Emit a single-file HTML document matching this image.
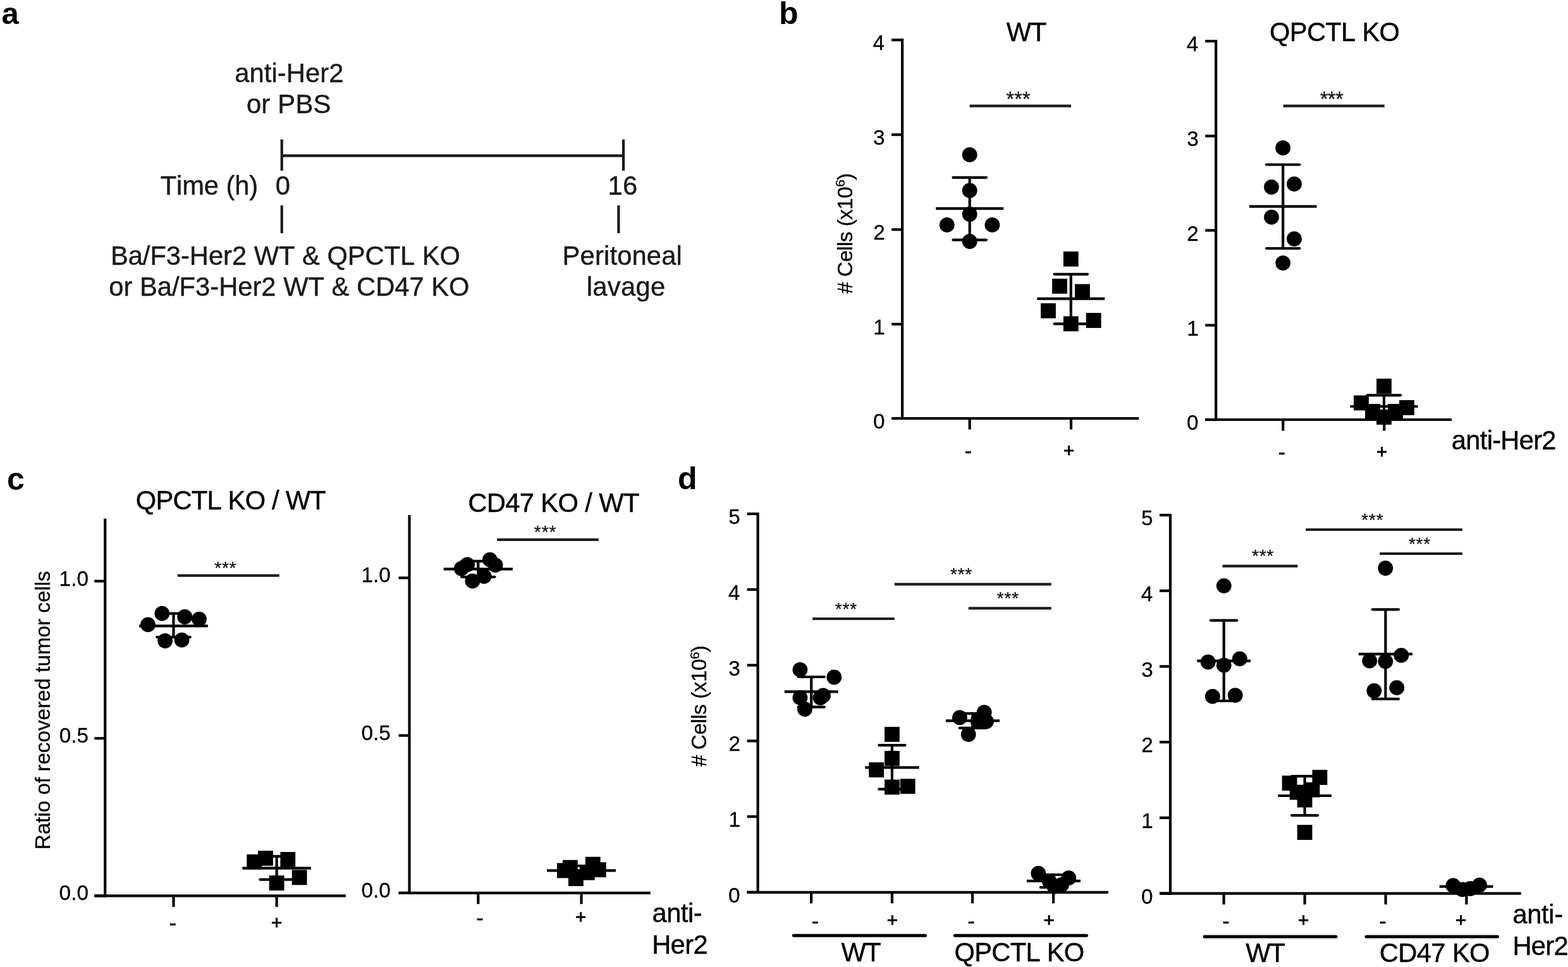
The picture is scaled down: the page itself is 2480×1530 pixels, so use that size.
<!DOCTYPE html>
<html lang="en">
<head>
<meta charset="utf-8">
<title>Figure</title>
<style>
html,body{margin:0;padding:0;background:#fff;}
body{width:2480px;height:1530px;overflow:hidden;}
svg{display:block;font-family:'Liberation Sans',Arial,Helvetica,sans-serif;font-kerning:none;}
text{white-space:pre;}
</style>
</head>
<body>
<svg width="2480" height="1530" viewBox="0 0 2480 1530">
<rect x="0" y="0" width="2480" height="1530" fill="#fff"/>
<text x="2.50" y="38.00" font-size="49" font-weight="bold" fill="#000">a</text>
<text x="1232.00" y="38.00" font-size="50" font-weight="bold" fill="#000">b</text>
<text x="11.00" y="775.00" font-size="50" font-weight="bold" fill="#000">c</text>
<text x="1072.00" y="773.50" font-size="50" font-weight="bold" fill="#000">d</text>
<text x="371.23" y="129.80" font-size="41.7" letter-spacing="0.108" fill="#1a1a1a" stroke="#1a1a1a" stroke-width="0.45">anti-Her2</text>
<text x="389.95" y="179.40" font-size="41.7" letter-spacing="0.252" fill="#1a1a1a" stroke="#1a1a1a" stroke-width="0.45">or PBS</text>
<line x1="445.70" y1="246.40" x2="986.00" y2="246.40" stroke="#1a1a1a" stroke-width="4.2"/>
<line x1="445.70" y1="220.60" x2="445.70" y2="270.00" stroke="#1a1a1a" stroke-width="4.2"/>
<line x1="986.00" y1="220.60" x2="986.00" y2="270.00" stroke="#1a1a1a" stroke-width="4.2"/>
<text x="253.66" y="307.50" font-size="41.7" letter-spacing="-0.099" fill="#1a1a1a" stroke="#1a1a1a" stroke-width="0.45">Time (h)</text>
<text x="435.87" y="307.50" font-size="41.7" fill="#1a1a1a" stroke="#1a1a1a" stroke-width="0.45">0</text>
<text x="961.52" y="307.50" font-size="41.7" letter-spacing="0.326" fill="#1a1a1a" stroke="#1a1a1a" stroke-width="0.45">16</text>
<line x1="445.70" y1="325.00" x2="445.70" y2="369.00" stroke="#1a1a1a" stroke-width="4.2"/>
<line x1="978.40" y1="325.00" x2="978.40" y2="369.00" stroke="#1a1a1a" stroke-width="4.2"/>
<text x="174.88" y="418.80" font-size="41.7" letter-spacing="-0.020" fill="#1a1a1a" stroke="#1a1a1a" stroke-width="0.45">Ba/F3-Her2 WT &amp; QPCTL KO</text>
<text x="172.25" y="467.80" font-size="41.7" letter-spacing="0.016" fill="#1a1a1a" stroke="#1a1a1a" stroke-width="0.45">or Ba/F3-Her2 WT &amp; CD47 KO</text>
<text x="889.58" y="418.80" font-size="41.7" letter-spacing="0.171" fill="#1a1a1a" stroke="#1a1a1a" stroke-width="0.45">Peritoneal</text>
<text x="927.69" y="467.80" font-size="41.7" letter-spacing="0.336" fill="#1a1a1a" stroke="#1a1a1a" stroke-width="0.45">lavage</text>
<line x1="1427.10" y1="61.10" x2="1427.10" y2="664.10" stroke="#000" stroke-width="4.2"/>
<line x1="1410.10" y1="662.00" x2="1801.30" y2="662.00" stroke="#000" stroke-width="4.2"/>
<line x1="1410.10" y1="63.20" x2="1427.10" y2="63.20" stroke="#000" stroke-width="4.2"/>
<text x="1380.56" y="79.40" font-size="33.3" fill="#000" stroke="#000" stroke-width="0.3">4</text>
<line x1="1410.10" y1="213.10" x2="1427.10" y2="213.10" stroke="#000" stroke-width="4.2"/>
<text x="1381.04" y="229.30" font-size="33.3" fill="#000" stroke="#000" stroke-width="0.3">3</text>
<line x1="1410.10" y1="363.20" x2="1427.10" y2="363.20" stroke="#000" stroke-width="4.2"/>
<text x="1381.25" y="379.40" font-size="33.3" fill="#000" stroke="#000" stroke-width="0.3">2</text>
<line x1="1410.10" y1="512.90" x2="1427.10" y2="512.90" stroke="#000" stroke-width="4.2"/>
<text x="1381.21" y="529.10" font-size="33.3" fill="#000" stroke="#000" stroke-width="0.3">1</text>
<line x1="1410.10" y1="662.00" x2="1427.10" y2="662.00" stroke="#000" stroke-width="4.2"/>
<text x="1380.88" y="678.20" font-size="33.3" fill="#000" stroke="#000" stroke-width="0.3">0</text>
<line x1="1533.70" y1="662.00" x2="1533.70" y2="679.50" stroke="#000" stroke-width="4.2"/>
<line x1="1694.00" y1="662.00" x2="1694.00" y2="679.50" stroke="#000" stroke-width="4.2"/>
<text x="1591.72" y="64.80" font-size="41.7" letter-spacing="-0.990" fill="#000" stroke="#000" stroke-width="0.45">WT</text>
<text x="1347.60" y="464.65" font-size="33.3" letter-spacing="-0.584" transform="rotate(-90 1347.60 464.65)" fill="#000" stroke="#000" stroke-width="0.3"># Cells (x10<tspan font-size="20.5" dy="-11.5">6</tspan><tspan dy="11.5">)</tspan></text>
<line x1="1533.70" y1="167.70" x2="1694.10" y2="167.70" stroke="#1c1c1c" stroke-width="4.2"/>
<text x="1591.38" y="168.05" font-size="32.5" letter-spacing="0.144" fill="#1a1a1a" stroke="#1a1a1a" stroke-width="0.35">***</text>
<circle cx="1533.7" cy="244.9" r="11.9" fill="#000"/>
<circle cx="1533.7" cy="301.5" r="11.9" fill="#000"/>
<circle cx="1533.7" cy="339.0" r="11.9" fill="#000"/>
<circle cx="1497.8" cy="355.9" r="11.9" fill="#000"/>
<circle cx="1569.4" cy="355.9" r="11.9" fill="#000"/>
<circle cx="1533.7" cy="382.0" r="11.9" fill="#000"/>
<line x1="1480.20" y1="329.90" x2="1587.20" y2="329.90" stroke="#000" stroke-width="4.2"/>
<line x1="1507.50" y1="280.80" x2="1559.90" y2="280.80" stroke="#000" stroke-width="4.2" stroke-linecap="round"/>
<line x1="1507.50" y1="379.60" x2="1559.90" y2="379.60" stroke="#000" stroke-width="4.2" stroke-linecap="round"/>
<line x1="1533.70" y1="280.80" x2="1533.70" y2="379.60" stroke="#000" stroke-width="4.2"/>
<rect x="1681.9" y="397.9" width="23.8" height="23.8" fill="#000"/>
<rect x="1664.1" y="440.9" width="23.8" height="23.8" fill="#000"/>
<rect x="1700.1" y="449.5" width="23.8" height="23.8" fill="#000"/>
<rect x="1646.1" y="479.8" width="23.8" height="23.8" fill="#000"/>
<rect x="1717.8" y="495.1" width="23.8" height="23.8" fill="#000"/>
<rect x="1681.9" y="500.4" width="23.8" height="23.8" fill="#000"/>
<line x1="1640.30" y1="472.60" x2="1747.30" y2="472.60" stroke="#000" stroke-width="4.2"/>
<line x1="1667.60" y1="433.80" x2="1720.00" y2="433.80" stroke="#000" stroke-width="4.2" stroke-linecap="round"/>
<line x1="1667.60" y1="512.30" x2="1720.00" y2="512.30" stroke="#000" stroke-width="4.2" stroke-linecap="round"/>
<line x1="1693.80" y1="433.80" x2="1693.80" y2="512.30" stroke="#000" stroke-width="4.2"/>
<text x="1525.51" y="724.65" font-size="34.8" fill="#000" stroke="#000" stroke-width="0.3">-</text>
<text x="1681.89" y="722.61" font-size="29.5" fill="#000" stroke="#000" stroke-width="1">+</text>
<line x1="1923.20" y1="63.00" x2="1923.20" y2="666.10" stroke="#000" stroke-width="4.2"/>
<line x1="1906.20" y1="664.00" x2="2296.00" y2="664.00" stroke="#000" stroke-width="4.2"/>
<line x1="1906.20" y1="65.10" x2="1923.20" y2="65.10" stroke="#000" stroke-width="4.2"/>
<text x="1876.66" y="81.30" font-size="33.3" fill="#000" stroke="#000" stroke-width="0.3">4</text>
<line x1="1906.20" y1="215.20" x2="1923.20" y2="215.20" stroke="#000" stroke-width="4.2"/>
<text x="1877.14" y="231.40" font-size="33.3" fill="#000" stroke="#000" stroke-width="0.3">3</text>
<line x1="1906.20" y1="364.50" x2="1923.20" y2="364.50" stroke="#000" stroke-width="4.2"/>
<text x="1877.35" y="380.70" font-size="33.3" fill="#000" stroke="#000" stroke-width="0.3">2</text>
<line x1="1906.20" y1="514.60" x2="1923.20" y2="514.60" stroke="#000" stroke-width="4.2"/>
<text x="1877.31" y="530.80" font-size="33.3" fill="#000" stroke="#000" stroke-width="0.3">1</text>
<line x1="1906.20" y1="664.00" x2="1923.20" y2="664.00" stroke="#000" stroke-width="4.2"/>
<text x="1876.98" y="680.20" font-size="33.3" fill="#000" stroke="#000" stroke-width="0.3">0</text>
<line x1="2029.30" y1="664.00" x2="2029.30" y2="681.50" stroke="#000" stroke-width="4.2"/>
<line x1="2189.30" y1="664.00" x2="2189.30" y2="681.50" stroke="#000" stroke-width="4.2"/>
<text x="2008.02" y="64.80" font-size="41.7" letter-spacing="-0.684" fill="#000" stroke="#000" stroke-width="0.45">QPCTL KO</text>
<line x1="2029.50" y1="167.70" x2="2189.80" y2="167.70" stroke="#1c1c1c" stroke-width="4.2"/>
<text x="2087.88" y="168.05" font-size="32.5" letter-spacing="-0.506" fill="#1a1a1a" stroke="#1a1a1a" stroke-width="0.35">***</text>
<circle cx="2029.2" cy="234.0" r="11.9" fill="#000"/>
<circle cx="2011.0" cy="296.0" r="11.9" fill="#000"/>
<circle cx="2047.0" cy="291.2" r="11.9" fill="#000"/>
<circle cx="2011.0" cy="343.6" r="11.9" fill="#000"/>
<circle cx="2047.0" cy="378.0" r="11.9" fill="#000"/>
<circle cx="2029.2" cy="416.1" r="11.9" fill="#000"/>
<line x1="1975.90" y1="326.60" x2="2082.50" y2="326.60" stroke="#000" stroke-width="4.2"/>
<line x1="2003.00" y1="260.50" x2="2055.40" y2="260.50" stroke="#000" stroke-width="4.2" stroke-linecap="round"/>
<line x1="2003.00" y1="393.00" x2="2055.40" y2="393.00" stroke="#000" stroke-width="4.2" stroke-linecap="round"/>
<line x1="2029.20" y1="260.50" x2="2029.20" y2="393.00" stroke="#000" stroke-width="4.2"/>
<rect x="2177.1" y="599.1" width="23.8" height="23.8" fill="#000"/>
<rect x="2141.1" y="625.6" width="23.8" height="23.8" fill="#000"/>
<rect x="2159.1" y="639.1" width="23.8" height="23.8" fill="#000"/>
<rect x="2177.1" y="648.1" width="23.8" height="23.8" fill="#000"/>
<rect x="2195.1" y="639.1" width="23.8" height="23.8" fill="#000"/>
<rect x="2213.1" y="633.1" width="23.8" height="23.8" fill="#000"/>
<line x1="2135.50" y1="643.00" x2="2242.50" y2="643.00" stroke="#000" stroke-width="4.2"/>
<line x1="2162.80" y1="625.30" x2="2215.20" y2="625.30" stroke="#000" stroke-width="4.2" stroke-linecap="round"/>
<line x1="2162.80" y1="659.00" x2="2215.20" y2="659.00" stroke="#000" stroke-width="4.2" stroke-linecap="round"/>
<line x1="2189.00" y1="625.30" x2="2189.00" y2="659.00" stroke="#000" stroke-width="4.2"/>
<text x="2021.51" y="727.15" font-size="34.8" fill="#000" stroke="#000" stroke-width="0.3">-</text>
<text x="2176.89" y="724.61" font-size="29.5" fill="#000" stroke="#000" stroke-width="1">+</text>
<text x="2295.83" y="710.80" font-size="41.7" letter-spacing="-0.717" fill="#000" stroke="#000" stroke-width="0.45">anti-Her2</text>
<line x1="166.20" y1="820.40" x2="166.20" y2="1419.50" stroke="#000" stroke-width="4.2"/>
<line x1="149.20" y1="1417.40" x2="546.90" y2="1417.40" stroke="#000" stroke-width="4.2"/>
<line x1="149.20" y1="919.50" x2="166.20" y2="919.50" stroke="#000" stroke-width="4.2"/>
<text x="93.61" y="926.50" font-size="33.3" fill="#000" stroke="#000" stroke-width="0.3">1.0</text>
<line x1="149.20" y1="1168.20" x2="166.20" y2="1168.20" stroke="#000" stroke-width="4.2"/>
<text x="93.71" y="1175.20" font-size="33.3" fill="#000" stroke="#000" stroke-width="0.3">0.5</text>
<line x1="149.20" y1="1417.40" x2="166.20" y2="1417.40" stroke="#000" stroke-width="4.2"/>
<text x="93.61" y="1424.40" font-size="33.3" fill="#000" stroke="#000" stroke-width="0.3">0.0</text>
<line x1="274.50" y1="1417.40" x2="274.50" y2="1434.90" stroke="#000" stroke-width="4.2"/>
<line x1="437.60" y1="1417.40" x2="437.60" y2="1434.90" stroke="#000" stroke-width="4.2"/>
<text x="214.82" y="805.50" font-size="41.7" letter-spacing="-0.793" fill="#000" stroke="#000" stroke-width="0.45">QPCTL KO / WT</text>
<text x="79.20" y="1344.23" font-size="33.3" letter-spacing="-0.045" transform="rotate(-90 79.20 1344.23)" fill="#000" stroke="#000" stroke-width="0.3">Ratio of recovered tumor cells</text>
<line x1="280.80" y1="910.70" x2="441.70" y2="910.70" stroke="#1c1c1c" stroke-width="4.2"/>
<text x="339.25" y="907.60" font-size="28.2" letter-spacing="0.686" fill="#1a1a1a" stroke="#1a1a1a" stroke-width="0.35">***</text>
<circle cx="256.3" cy="970.7" r="11.9" fill="#000"/>
<circle cx="292.2" cy="976.0" r="11.9" fill="#000"/>
<circle cx="315.0" cy="979.6" r="11.9" fill="#000"/>
<circle cx="234.0" cy="988.4" r="11.9" fill="#000"/>
<circle cx="261.1" cy="1014.0" r="11.9" fill="#000"/>
<circle cx="287.6" cy="1012.7" r="11.9" fill="#000"/>
<line x1="220.20" y1="990.40" x2="328.80" y2="990.40" stroke="#000" stroke-width="4.2"/>
<line x1="248.30" y1="970.70" x2="300.70" y2="970.70" stroke="#000" stroke-width="4.2" stroke-linecap="round"/>
<line x1="248.30" y1="1008.20" x2="300.70" y2="1008.20" stroke="#000" stroke-width="4.2" stroke-linecap="round"/>
<line x1="274.50" y1="970.70" x2="274.50" y2="1008.20" stroke="#000" stroke-width="4.2"/>
<rect x="390.3" y="1351.8" width="23.8" height="23.8" fill="#000"/>
<rect x="408.1" y="1346.0" width="23.8" height="23.8" fill="#000"/>
<rect x="443.4" y="1348.0" width="23.8" height="23.8" fill="#000"/>
<rect x="461.7" y="1376.4" width="23.8" height="23.8" fill="#000"/>
<rect x="425.7" y="1385.2" width="23.8" height="23.8" fill="#000"/>
<line x1="383.30" y1="1373.60" x2="491.90" y2="1373.60" stroke="#000" stroke-width="4.2"/>
<line x1="411.40" y1="1354.90" x2="463.80" y2="1354.90" stroke="#000" stroke-width="4.2" stroke-linecap="round"/>
<line x1="411.40" y1="1391.60" x2="463.80" y2="1391.60" stroke="#000" stroke-width="4.2" stroke-linecap="round"/>
<line x1="437.60" y1="1354.90" x2="437.60" y2="1391.60" stroke="#000" stroke-width="4.2"/>
<text x="267.61" y="1472.25" font-size="34.8" fill="#000" stroke="#000" stroke-width="0.3">-</text>
<text x="428.99" y="1469.91" font-size="29.5" fill="#000" stroke="#000" stroke-width="1">+</text>
<line x1="647.50" y1="814.90" x2="647.50" y2="1415.00" stroke="#000" stroke-width="4.2"/>
<line x1="630.50" y1="1412.90" x2="1028.80" y2="1412.90" stroke="#000" stroke-width="4.2"/>
<line x1="630.50" y1="914.30" x2="647.50" y2="914.30" stroke="#000" stroke-width="4.2"/>
<text x="571.41" y="921.30" font-size="33.3" fill="#000" stroke="#000" stroke-width="0.3">1.0</text>
<line x1="630.50" y1="1163.70" x2="647.50" y2="1163.70" stroke="#000" stroke-width="4.2"/>
<text x="571.51" y="1170.70" font-size="33.3" fill="#000" stroke="#000" stroke-width="0.3">0.5</text>
<line x1="630.50" y1="1412.90" x2="647.50" y2="1412.90" stroke="#000" stroke-width="4.2"/>
<text x="571.41" y="1419.90" font-size="33.3" fill="#000" stroke="#000" stroke-width="0.3">0.0</text>
<line x1="756.30" y1="1412.90" x2="756.30" y2="1430.40" stroke="#000" stroke-width="4.2"/>
<line x1="919.50" y1="1412.90" x2="919.50" y2="1430.40" stroke="#000" stroke-width="4.2"/>
<text x="740.28" y="809.60" font-size="41.7" letter-spacing="-0.624" fill="#000" stroke="#000" stroke-width="0.45">CD47 KO / WT</text>
<line x1="786.10" y1="853.90" x2="946.80" y2="853.90" stroke="#1c1c1c" stroke-width="4.2"/>
<text x="844.85" y="850.50" font-size="28.2" letter-spacing="0.836" fill="#1a1a1a" stroke="#1a1a1a" stroke-width="0.35">***</text>
<circle cx="729.7" cy="899.6" r="11.9" fill="#000"/>
<circle cx="739.1" cy="893.3" r="11.9" fill="#000"/>
<circle cx="774.8" cy="885.7" r="11.9" fill="#000"/>
<circle cx="783.6" cy="894.1" r="11.9" fill="#000"/>
<circle cx="765.7" cy="911.8" r="11.9" fill="#000"/>
<circle cx="747.4" cy="919.4" r="11.9" fill="#000"/>
<line x1="701.70" y1="900.40" x2="810.90" y2="900.40" stroke="#000" stroke-width="4.2"/>
<line x1="730.10" y1="887.80" x2="782.50" y2="887.80" stroke="#000" stroke-width="4.2" stroke-linecap="round"/>
<line x1="730.10" y1="912.80" x2="782.50" y2="912.80" stroke="#000" stroke-width="4.2" stroke-linecap="round"/>
<line x1="756.30" y1="887.80" x2="756.30" y2="912.80" stroke="#000" stroke-width="4.2"/>
<rect x="881.0" y="1365.5" width="23.8" height="23.8" fill="#000"/>
<rect x="889.9" y="1360.7" width="23.8" height="23.8" fill="#000"/>
<rect x="925.8" y="1355.7" width="23.8" height="23.8" fill="#000"/>
<rect x="934.9" y="1364.3" width="23.8" height="23.8" fill="#000"/>
<rect x="916.9" y="1368.8" width="23.8" height="23.8" fill="#000"/>
<rect x="899.0" y="1378.2" width="23.8" height="23.8" fill="#000"/>
<line x1="865.10" y1="1377.40" x2="973.90" y2="1377.40" stroke="#000" stroke-width="4.2"/>
<line x1="893.30" y1="1370.00" x2="945.70" y2="1370.00" stroke="#000" stroke-width="4.2" stroke-linecap="round"/>
<line x1="893.30" y1="1385.00" x2="945.70" y2="1385.00" stroke="#000" stroke-width="4.2" stroke-linecap="round"/>
<line x1="919.50" y1="1370.00" x2="919.50" y2="1385.00" stroke="#000" stroke-width="4.2"/>
<text x="753.31" y="1464.15" font-size="34.8" fill="#000" stroke="#000" stroke-width="0.3">-</text>
<text x="910.09" y="1460.51" font-size="29.5" fill="#000" stroke="#000" stroke-width="1">+</text>
<text x="1031.53" y="1458.60" font-size="41.7" letter-spacing="-0.524" fill="#000" stroke="#000" stroke-width="0.45">anti-</text>
<text x="1031.18" y="1508.50" font-size="41.7" letter-spacing="-0.655" fill="#000" stroke="#000" stroke-width="0.45">Her2</text>
<line x1="1198.60" y1="810.90" x2="1198.60" y2="1413.90" stroke="#000" stroke-width="4.2"/>
<line x1="1181.60" y1="1411.80" x2="1753.00" y2="1411.80" stroke="#000" stroke-width="4.2"/>
<line x1="1181.60" y1="813.00" x2="1198.60" y2="813.00" stroke="#000" stroke-width="4.2"/>
<text x="1152.18" y="829.20" font-size="33.3" fill="#000" stroke="#000" stroke-width="0.3">5</text>
<line x1="1181.60" y1="932.76" x2="1198.60" y2="932.76" stroke="#000" stroke-width="4.2"/>
<text x="1151.76" y="948.96" font-size="33.3" fill="#000" stroke="#000" stroke-width="0.3">4</text>
<line x1="1181.60" y1="1052.52" x2="1198.60" y2="1052.52" stroke="#000" stroke-width="4.2"/>
<text x="1152.24" y="1068.72" font-size="33.3" fill="#000" stroke="#000" stroke-width="0.3">3</text>
<line x1="1181.60" y1="1172.28" x2="1198.60" y2="1172.28" stroke="#000" stroke-width="4.2"/>
<text x="1152.45" y="1188.48" font-size="33.3" fill="#000" stroke="#000" stroke-width="0.3">2</text>
<line x1="1181.60" y1="1292.04" x2="1198.60" y2="1292.04" stroke="#000" stroke-width="4.2"/>
<text x="1152.41" y="1308.24" font-size="33.3" fill="#000" stroke="#000" stroke-width="0.3">1</text>
<line x1="1181.60" y1="1411.80" x2="1198.60" y2="1411.80" stroke="#000" stroke-width="4.2"/>
<text x="1152.08" y="1428.00" font-size="33.3" fill="#000" stroke="#000" stroke-width="0.3">0</text>
<line x1="1283.10" y1="1411.80" x2="1283.10" y2="1429.30" stroke="#000" stroke-width="4.2"/>
<line x1="1410.90" y1="1411.80" x2="1410.90" y2="1429.30" stroke="#000" stroke-width="4.2"/>
<line x1="1538.10" y1="1411.80" x2="1538.10" y2="1429.30" stroke="#000" stroke-width="4.2"/>
<line x1="1666.10" y1="1411.80" x2="1666.10" y2="1429.30" stroke="#000" stroke-width="4.2"/>
<text x="1117.40" y="1212.95" font-size="33.3" letter-spacing="-0.492" transform="rotate(-90 1117.40 1212.95)" fill="#000" stroke="#000" stroke-width="0.3"># Cells (x10<tspan font-size="20.5" dy="-11.5">6</tspan><tspan dy="11.5">)</tspan></text>
<circle cx="1265.4" cy="1059.7" r="11.9" fill="#000"/>
<circle cx="1319.3" cy="1071.5" r="11.9" fill="#000"/>
<circle cx="1265.4" cy="1103.9" r="11.9" fill="#000"/>
<circle cx="1297.5" cy="1104.0" r="11.9" fill="#000"/>
<circle cx="1302.0" cy="1100.5" r="11.9" fill="#000"/>
<circle cx="1273.0" cy="1122.1" r="11.9" fill="#000"/>
<line x1="1240.80" y1="1094.30" x2="1325.60" y2="1094.30" stroke="#000" stroke-width="4.2"/>
<line x1="1262.60" y1="1071.00" x2="1303.80" y2="1071.00" stroke="#000" stroke-width="4.2" stroke-linecap="round"/>
<line x1="1262.60" y1="1118.60" x2="1303.80" y2="1118.60" stroke="#000" stroke-width="4.2" stroke-linecap="round"/>
<line x1="1283.20" y1="1071.00" x2="1283.20" y2="1118.60" stroke="#000" stroke-width="4.2"/>
<rect x="1399.0" y="1150.0" width="23.8" height="23.8" fill="#000"/>
<rect x="1399.0" y="1188.0" width="23.8" height="23.8" fill="#000"/>
<rect x="1374.2" y="1206.2" width="23.8" height="23.8" fill="#000"/>
<rect x="1399.0" y="1233.5" width="23.8" height="23.8" fill="#000"/>
<rect x="1423.8" y="1232.2" width="23.8" height="23.8" fill="#000"/>
<line x1="1368.20" y1="1214.30" x2="1453.60" y2="1214.30" stroke="#000" stroke-width="4.2"/>
<line x1="1390.30" y1="1179.10" x2="1431.50" y2="1179.10" stroke="#000" stroke-width="4.2" stroke-linecap="round"/>
<line x1="1390.30" y1="1248.70" x2="1431.50" y2="1248.70" stroke="#000" stroke-width="4.2" stroke-linecap="round"/>
<line x1="1410.90" y1="1179.10" x2="1410.90" y2="1248.70" stroke="#000" stroke-width="4.2"/>
<circle cx="1517.9" cy="1135.4" r="11.9" fill="#000"/>
<circle cx="1556.7" cy="1127.2" r="11.9" fill="#000"/>
<circle cx="1546.5" cy="1141.0" r="11.9" fill="#000"/>
<circle cx="1559.9" cy="1141.5" r="11.9" fill="#000"/>
<circle cx="1531.7" cy="1162.0" r="11.9" fill="#000"/>
<line x1="1495.90" y1="1140.30" x2="1581.10" y2="1140.30" stroke="#000" stroke-width="4.2"/>
<line x1="1517.90" y1="1128.90" x2="1559.10" y2="1128.90" stroke="#000" stroke-width="4.2" stroke-linecap="round"/>
<line x1="1517.90" y1="1151.90" x2="1559.10" y2="1151.90" stroke="#000" stroke-width="4.2" stroke-linecap="round"/>
<line x1="1538.50" y1="1128.90" x2="1538.50" y2="1151.90" stroke="#000" stroke-width="4.2"/>
<circle cx="1642.3" cy="1382.0" r="11.9" fill="#000"/>
<circle cx="1690.3" cy="1389.2" r="11.9" fill="#000"/>
<circle cx="1660.0" cy="1395.0" r="11.9" fill="#000"/>
<circle cx="1667.5" cy="1402.8" r="11.9" fill="#000"/>
<circle cx="1679.0" cy="1400.0" r="11.9" fill="#000"/>
<line x1="1624.00" y1="1393.90" x2="1709.00" y2="1393.90" stroke="#000" stroke-width="4.2"/>
<line x1="1645.90" y1="1384.00" x2="1687.10" y2="1384.00" stroke="#000" stroke-width="4.2" stroke-linecap="round"/>
<line x1="1645.90" y1="1404.00" x2="1687.10" y2="1404.00" stroke="#000" stroke-width="4.2" stroke-linecap="round"/>
<line x1="1666.50" y1="1384.00" x2="1666.50" y2="1404.00" stroke="#000" stroke-width="4.2"/>
<line x1="1285.10" y1="979.00" x2="1414.90" y2="979.00" stroke="#1c1c1c" stroke-width="4.2"/>
<text x="1320.85" y="973.00" font-size="28.2" letter-spacing="0.686" fill="#1a1a1a" stroke="#1a1a1a" stroke-width="0.35">***</text>
<line x1="1414.90" y1="924.30" x2="1662.80" y2="924.30" stroke="#1c1c1c" stroke-width="4.2"/>
<text x="1503.05" y="918.10" font-size="28.2" letter-spacing="0.686" fill="#1a1a1a" stroke="#1a1a1a" stroke-width="0.35">***</text>
<line x1="1531.80" y1="962.30" x2="1662.80" y2="962.30" stroke="#1c1c1c" stroke-width="4.2"/>
<text x="1576.85" y="956.10" font-size="28.2" letter-spacing="0.686" fill="#1a1a1a" stroke="#1a1a1a" stroke-width="0.35">***</text>
<text x="1283.41" y="1468.55" font-size="34.8" fill="#000" stroke="#000" stroke-width="0.3">-</text>
<text x="1402.79" y="1465.51" font-size="29.5" fill="#000" stroke="#000" stroke-width="1">+</text>
<text x="1530.31" y="1468.55" font-size="34.8" fill="#000" stroke="#000" stroke-width="0.3">-</text>
<text x="1650.59" y="1465.51" font-size="29.5" fill="#000" stroke="#000" stroke-width="1">+</text>
<line x1="1255.30" y1="1480.20" x2="1463.50" y2="1480.20" stroke="#000" stroke-width="5.0" stroke-linecap="round"/>
<line x1="1510.30" y1="1480.20" x2="1718.50" y2="1480.20" stroke="#000" stroke-width="5.0" stroke-linecap="round"/>
<text x="1330.52" y="1521.40" font-size="41.7" letter-spacing="-1.690" fill="#000" stroke="#000" stroke-width="0.45">WT</text>
<text x="1509.62" y="1521.40" font-size="41.7" letter-spacing="-0.742" fill="#000" stroke="#000" stroke-width="0.45">QPCTL KO</text>
<line x1="1851.00" y1="812.90" x2="1851.00" y2="1415.70" stroke="#000" stroke-width="4.2"/>
<line x1="1834.00" y1="1413.60" x2="2405.70" y2="1413.60" stroke="#000" stroke-width="4.2"/>
<line x1="1834.00" y1="815.00" x2="1851.00" y2="815.00" stroke="#000" stroke-width="4.2"/>
<text x="1805.08" y="831.20" font-size="33.3" fill="#000" stroke="#000" stroke-width="0.3">5</text>
<line x1="1834.00" y1="934.72" x2="1851.00" y2="934.72" stroke="#000" stroke-width="4.2"/>
<text x="1804.66" y="950.92" font-size="33.3" fill="#000" stroke="#000" stroke-width="0.3">4</text>
<line x1="1834.00" y1="1054.44" x2="1851.00" y2="1054.44" stroke="#000" stroke-width="4.2"/>
<text x="1805.14" y="1070.64" font-size="33.3" fill="#000" stroke="#000" stroke-width="0.3">3</text>
<line x1="1834.00" y1="1174.16" x2="1851.00" y2="1174.16" stroke="#000" stroke-width="4.2"/>
<text x="1805.35" y="1190.36" font-size="33.3" fill="#000" stroke="#000" stroke-width="0.3">2</text>
<line x1="1834.00" y1="1293.88" x2="1851.00" y2="1293.88" stroke="#000" stroke-width="4.2"/>
<text x="1805.31" y="1310.08" font-size="33.3" fill="#000" stroke="#000" stroke-width="0.3">1</text>
<line x1="1834.00" y1="1413.60" x2="1851.00" y2="1413.60" stroke="#000" stroke-width="4.2"/>
<text x="1804.98" y="1429.80" font-size="33.3" fill="#000" stroke="#000" stroke-width="0.3">0</text>
<line x1="1935.60" y1="1413.60" x2="1935.60" y2="1431.10" stroke="#000" stroke-width="4.2"/>
<line x1="2063.60" y1="1413.60" x2="2063.60" y2="1431.10" stroke="#000" stroke-width="4.2"/>
<line x1="2191.60" y1="1413.60" x2="2191.60" y2="1431.10" stroke="#000" stroke-width="4.2"/>
<line x1="2319.40" y1="1413.60" x2="2319.40" y2="1431.10" stroke="#000" stroke-width="4.2"/>
<circle cx="1935.8" cy="926.8" r="11.9" fill="#000"/>
<circle cx="1910.7" cy="1047.5" r="11.9" fill="#000"/>
<circle cx="1960.8" cy="1042.4" r="11.9" fill="#000"/>
<circle cx="1935.8" cy="1052.6" r="11.9" fill="#000"/>
<circle cx="1917.8" cy="1101.9" r="11.9" fill="#000"/>
<circle cx="1953.7" cy="1100.1" r="11.9" fill="#000"/>
<line x1="1893.30" y1="1045.70" x2="1978.10" y2="1045.70" stroke="#000" stroke-width="4.2"/>
<line x1="1915.10" y1="981.70" x2="1956.30" y2="981.70" stroke="#000" stroke-width="4.2" stroke-linecap="round"/>
<line x1="1915.10" y1="1109.00" x2="1956.30" y2="1109.00" stroke="#000" stroke-width="4.2" stroke-linecap="round"/>
<line x1="1935.70" y1="981.70" x2="1935.70" y2="1109.00" stroke="#000" stroke-width="4.2"/>
<rect x="2027.7" y="1227.2" width="23.8" height="23.8" fill="#000"/>
<rect x="2075.5" y="1218.1" width="23.8" height="23.8" fill="#000"/>
<rect x="2039.8" y="1241.7" width="23.8" height="23.8" fill="#000"/>
<rect x="2063.6" y="1237.8" width="23.8" height="23.8" fill="#000"/>
<rect x="2051.7" y="1253.7" width="23.8" height="23.8" fill="#000"/>
<rect x="2051.7" y="1305.1" width="23.8" height="23.8" fill="#000"/>
<line x1="2021.20" y1="1259.00" x2="2106.00" y2="1259.00" stroke="#000" stroke-width="4.2"/>
<line x1="2043.00" y1="1228.20" x2="2084.20" y2="1228.20" stroke="#000" stroke-width="4.2" stroke-linecap="round"/>
<line x1="2043.00" y1="1290.10" x2="2084.20" y2="1290.10" stroke="#000" stroke-width="4.2" stroke-linecap="round"/>
<line x1="2063.60" y1="1228.20" x2="2063.60" y2="1290.10" stroke="#000" stroke-width="4.2"/>
<circle cx="2191.3" cy="899.0" r="11.9" fill="#000"/>
<circle cx="2166.2" cy="1045.7" r="11.9" fill="#000"/>
<circle cx="2216.3" cy="1036.9" r="11.9" fill="#000"/>
<circle cx="2191.3" cy="1046.5" r="11.9" fill="#000"/>
<circle cx="2173.3" cy="1093.0" r="11.9" fill="#000"/>
<circle cx="2209.2" cy="1088.2" r="11.9" fill="#000"/>
<line x1="2148.80" y1="1034.90" x2="2234.00" y2="1034.90" stroke="#000" stroke-width="4.2"/>
<line x1="2170.80" y1="964.30" x2="2212.00" y2="964.30" stroke="#000" stroke-width="4.2" stroke-linecap="round"/>
<line x1="2170.80" y1="1105.90" x2="2212.00" y2="1105.90" stroke="#000" stroke-width="4.2" stroke-linecap="round"/>
<line x1="2191.40" y1="964.30" x2="2191.40" y2="1105.90" stroke="#000" stroke-width="4.2"/>
<circle cx="2298.4" cy="1401.2" r="11.9" fill="#000"/>
<circle cx="2340.0" cy="1400.4" r="11.9" fill="#000"/>
<circle cx="2312.8" cy="1407.3" r="11.9" fill="#000"/>
<circle cx="2325.5" cy="1406.0" r="11.9" fill="#000"/>
<line x1="2276.70" y1="1402.70" x2="2361.50" y2="1402.70" stroke="#000" stroke-width="4.2"/>
<line x1="2298.50" y1="1399.00" x2="2339.70" y2="1399.00" stroke="#000" stroke-width="4.2" stroke-linecap="round"/>
<line x1="2298.50" y1="1406.00" x2="2339.70" y2="1406.00" stroke="#000" stroke-width="4.2" stroke-linecap="round"/>
<line x1="2319.10" y1="1399.00" x2="2319.10" y2="1406.00" stroke="#000" stroke-width="4.2"/>
<line x1="1933.50" y1="895.70" x2="2052.40" y2="895.70" stroke="#1c1c1c" stroke-width="4.2"/>
<text x="1980.05" y="888.80" font-size="28.2" letter-spacing="0.686" fill="#1a1a1a" stroke="#1a1a1a" stroke-width="0.35">***</text>
<line x1="2065.30" y1="838.00" x2="2313.00" y2="838.00" stroke="#1c1c1c" stroke-width="4.2"/>
<text x="2153.35" y="831.90" font-size="28.2" letter-spacing="0.686" fill="#1a1a1a" stroke="#1a1a1a" stroke-width="0.35">***</text>
<line x1="2182.20" y1="876.00" x2="2313.00" y2="876.00" stroke="#1c1c1c" stroke-width="4.2"/>
<text x="2227.95" y="870.10" font-size="28.2" letter-spacing="0.686" fill="#1a1a1a" stroke="#1a1a1a" stroke-width="0.35">***</text>
<text x="1933.31" y="1469.05" font-size="34.8" fill="#000" stroke="#000" stroke-width="0.3">-</text>
<text x="2052.89" y="1466.01" font-size="29.5" fill="#000" stroke="#000" stroke-width="1">+</text>
<text x="2181.31" y="1469.05" font-size="34.8" fill="#000" stroke="#000" stroke-width="0.3">-</text>
<text x="2301.89" y="1466.01" font-size="29.5" fill="#000" stroke="#000" stroke-width="1">+</text>
<line x1="1905.00" y1="1481.90" x2="2113.00" y2="1481.90" stroke="#000" stroke-width="5.0" stroke-linecap="round"/>
<line x1="2161.00" y1="1481.90" x2="2368.50" y2="1481.90" stroke="#000" stroke-width="5.0" stroke-linecap="round"/>
<text x="1970.32" y="1521.60" font-size="41.7" letter-spacing="-2.190" fill="#000" stroke="#000" stroke-width="0.45">WT</text>
<text x="2181.68" y="1521.60" font-size="41.7" letter-spacing="-0.589" fill="#000" stroke="#000" stroke-width="0.45">CD47 KO</text>
<text x="2392.53" y="1460.70" font-size="41.7" letter-spacing="-0.399" fill="#000" stroke="#000" stroke-width="0.45">anti-</text>
<text x="2392.38" y="1510.80" font-size="41.7" letter-spacing="-0.655" fill="#000" stroke="#000" stroke-width="0.45">Her2</text>
</svg>
</body>
</html>
